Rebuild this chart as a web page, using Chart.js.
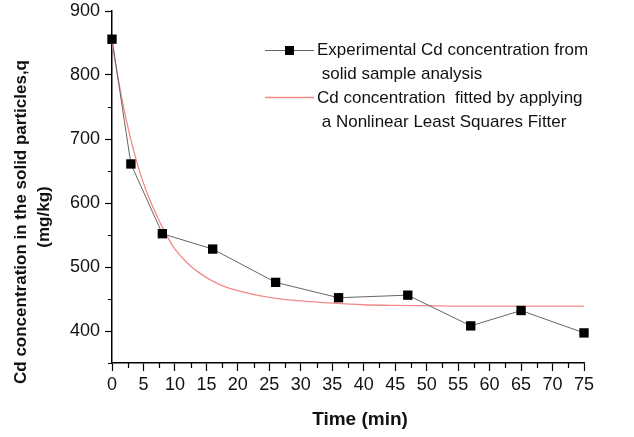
<!DOCTYPE html>
<html>
<head>
<meta charset="utf-8">
<script src="https://cdn.jsdelivr.net/npm/chart.js@4/dist/chart.umd.min.js"></script>
<style>
html,body{margin:0;padding:0;background:#fff;}
#wrap{width:634px;height:437px;}
</style>
</head>
<body>
<div id="wrap"><canvas id="c" width="634" height="437"></canvas></div>
<script>
// ---- data ----
const expTime = [0, 3, 8, 16, 26, 36, 47, 57, 65, 75];
const expConc = [856, 661, 552, 528, 476, 452, 456, 408, 432, 397];

const fitTime = [0, 1, 2, 3, 4, 5, 6, 7, 8, 9, 10, 12, 14, 16, 18, 20, 23, 26, 30, 35, 40, 45, 50, 55, 60, 65, 70, 75];
const fitConc = [852, 793, 742, 699, 662, 631, 605, 583, 562, 544, 528, 506, 490, 478, 469, 463, 456, 451, 447, 443.5, 441, 440, 439.5, 439, 439, 439, 439, 439];

const xTitle = "Time (min)";
const yTitle = ["Cd concentration in the solid particles,q", "(mg/kg)"];
const legendExp = ["Experimental Cd concentration from", " solid sample analysis"];
const legendFit = ["Cd concentration  fitted by applying", " a Nonlinear Least Squares Fitter"];

const FONT = "'Liberation Sans', Arial, Helvetica, sans-serif";

const expData = expTime.map((t, i) => ({x: t, y: expConc[i]}));
const fitData = fitTime.map((t, i) => ({x: t, y: fitConc[i]}));

const minorTicks = {
  id: 'minorTicks',
  afterDraw(chart) {
    const ctx = chart.ctx;
    const xs = chart.scales.x, ys = chart.scales.y;
    ctx.save();
    ctx.strokeStyle = '#000';
    ctx.lineWidth = 1.2;
    ctx.beginPath();
    for (let v = 2.5; v < 75; v += 5) {
      const px = Math.round(xs.getPixelForValue(v)) + 0.5;
      ctx.moveTo(px, ys.bottom);
      ctx.lineTo(px, ys.bottom + 5);
    }
    for (let v = 350; v < 900; v += 100) {
      const py = Math.round(ys.getPixelForValue(v)) + 0.5;
      ctx.moveTo(xs.left, py);
      ctx.lineTo(xs.left - 4, py);
    }
    ctx.stroke();
    ctx.restore();
  }
};

const titlesAndLegend = {
  id: 'titlesAndLegend',
  afterDraw(chart) {
    const ctx = chart.ctx;
    ctx.save();
    ctx.fillStyle = '#111';
    // y title
    ctx.font = "bold 17px " + FONT;
    ctx.textAlign = 'center';
    ctx.textBaseline = 'middle';
    ctx.save();
    ctx.translate(21, 222);
    ctx.rotate(-Math.PI / 2);
    ctx.fillText(yTitle[0], 0, 0);
    ctx.restore();
    ctx.save();
    ctx.translate(44, 217);
    ctx.rotate(-Math.PI / 2);
    ctx.fillText(yTitle[1], 0, 0);
    ctx.restore();
    // x title
    ctx.font = "bold 19px " + FONT;
    ctx.fillText(xTitle, 360, 420);
    // legend
    ctx.textAlign = 'left';
    ctx.font = "17px " + FONT;
    ctx.fillText(legendExp[0], 317, 50);
    ctx.fillText(legendExp[1], 317, 74);
    ctx.fillText(legendFit[0], 317, 98);
    ctx.fillText(legendFit[1], 317, 122);
    // legend samples
    ctx.strokeStyle = '#666';
    ctx.lineWidth = 1;
    ctx.beginPath();
    ctx.moveTo(265, 50.5); ctx.lineTo(314, 50.5);
    ctx.stroke();
    ctx.fillStyle = '#000';
    ctx.fillRect(285, 46, 9, 9);
    ctx.strokeStyle = '#f28a8a';
    ctx.lineWidth = 1.3;
    ctx.beginPath();
    ctx.moveTo(265, 97.5); ctx.lineTo(314, 97.5);
    ctx.stroke();
    ctx.restore();
  }
};

new Chart(document.getElementById('c'), {
  type: 'line',
  data: {
    datasets: [
      {
        label: 'Experimental',
        data: expData,
        borderColor: '#666',
        borderWidth: 1,
        pointStyle: 'rect',
        pointRadius: 6.6,
        pointBackgroundColor: '#000',
        pointBorderColor: '#000',
        pointBorderWidth: 0,
        tension: 0,
        clip: false,
        order: 0
      },
      {
        label: 'Fitted',
        data: fitData,
        borderColor: '#f28a8a',
        borderWidth: 1.3,
        pointRadius: 0,
        cubicInterpolationMode: 'monotone',
        clip: false,
        order: 1
      }
    ]
  },
  options: {
    responsive: false,
    animation: false,
    layout: {padding: {top: 0, right: 50, left: 0, bottom: 0}},
    plugins: {legend: {display: false}, tooltip: {enabled: false}},
    scales: {
      x: {
        type: 'linear',
        min: 0, max: 75,
        afterFit(s) { s.height = 74; },
        ticks: {stepSize: 5, color: '#111', padding: 3, maxRotation: 0, autoSkip: false,
                font: {family: FONT, size: 18}},
        grid: {drawOnChartArea: false, drawTicks: true, tickLength: 8, tickColor: '#000', tickWidth: 1.2},
        border: {color: '#000', width: 1.5}
      },
      y: {
        type: 'linear',
        min: 350, max: 900,
        afterFit(s) { s.width = 112; s.paddingTop = 11; },
        ticks: {stepSize: 100, color: '#111', padding: 5,
                font: {family: FONT, size: 18},
                callback: (v) => (v % 100 === 0 ? v : '')},
        grid: {drawOnChartArea: false, drawTicks: true, tickLength: 7,
               tickColor: (c) => (c.tick && c.tick.value % 100 === 0 ? '#000' : 'rgba(0,0,0,0)'),
               tickWidth: 1.2},
        border: {color: '#000', width: 1.5}
      }
    }
  },
  plugins: [minorTicks, titlesAndLegend]
});
</script>
</body>
</html>
